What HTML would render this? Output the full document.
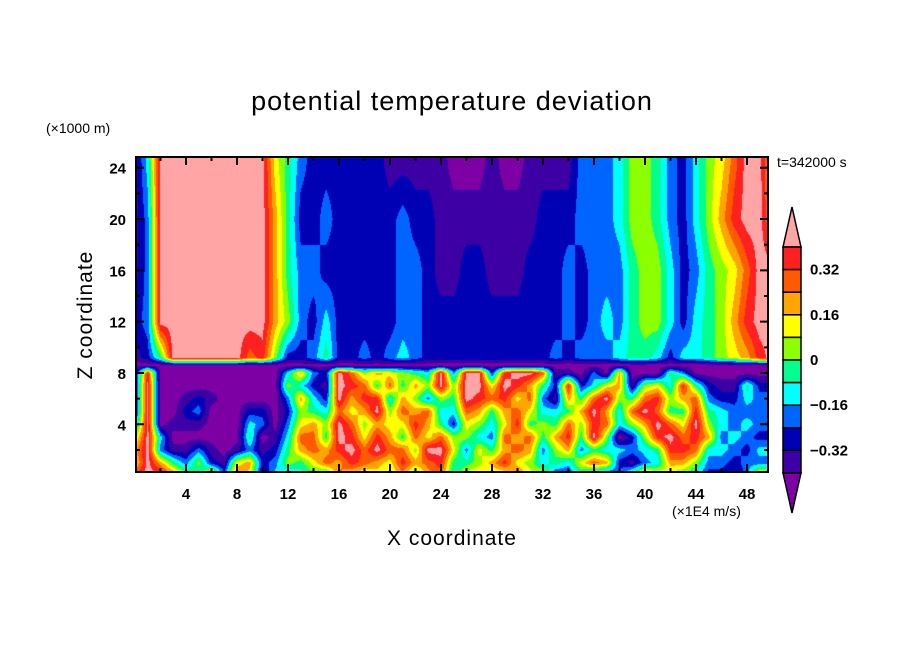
<!DOCTYPE html>
<html><head><meta charset="utf-8">
<style>
html,body{margin:0;padding:0;background:#fff;}
#wrap{position:relative;width:904px;height:654px;overflow:hidden;font-family:"Liberation Sans",sans-serif;color:#000;}
.t{position:absolute;white-space:nowrap;}
</style></head>
<body>
<div id="wrap">
<div class="t" style="left:0;width:904px;text-align:center;top:86px;font-size:27px;letter-spacing:1px;">potential temperature deviation</div>
<div class="t" style="left:46px;top:120px;font-size:14px;">(×1000 m)</div>
<div class="t" style="left:777px;top:154px;font-size:14px;">t=342000 s</div>
<div class="t" style="left:672px;top:503px;font-size:14px;">(×1E4 m/s)</div>
<div class="t" style="left:0;width:904px;text-align:center;top:527px;font-size:21px;letter-spacing:1px;">X coordinate</div>
<div class="t" style="left:86px;top:315px;font-size:21px;letter-spacing:1px;transform:translate(-50%,-50%) rotate(-90deg);">Z coordinate</div>
<canvas id="cv" width="632" height="315" style="position:absolute;left:136px;top:157px;"></canvas>
<svg id="sv" width="904" height="654" style="position:absolute;left:0;top:0;"></svg>
</div>
<script>
// level colors (index 0 = below -0.4, 11 = above 0.4)
const levelColors = ["#7c00a4","#3c00a4","#0000b4","#0064ff","#00ffff","#00ff8c","#8cff00","#ffff00","#ffa500","#ff5a00","#ff2020","#ffa5a5"];
const cbLabels = ["0.32","0.16","0","\u22120.16","\u22120.32"];
const cbLabelVals = [0.32,0.16,0,-0.16,-0.32];
const xTickLabels = [4,8,12,16,20,24,28,32,36,40,44,48];
const yTickLabels = [4,8,12,16,20,24];
// grid heights (z, km) and per-row level values at x = 0..50
const gridZ = [0,1,2,3,4,5,6,7,8,8.6,9.2,12,16,20,24.6];
const row0  = "abb96493971434549767685894786697722421369865422138"+"8";
const row1  = "7b853621782365798a987a89a5568a76454798213488633233"+"3";
const row2  = "8b31131013125898ab9b996bb73758983683544345aa944324"+"4";
const row3  = "6b40000005014995ba7a85979664398958a5b6026ab9a83432"+"2";
const row4  = "3b01110004303786b96877a8527647a56596a9468b97b64343"+"3";
const row5  = "1b00230002202654978b6989449858974458b849b955a54333"+"3";
const row6  = "1b00121000003842b8aa486365ba9a7931859b659a68932243"+"3";
const row7  = "1b00000000006421ba959586b6bb7ba852a24781674a521152"+"2";
const row8  = "1a000000000048 32b9687654b3bb2abb911030800053000000".replace(" ","")+"0";
const row86 = "000000000000000000000000000000000000000000000000000";
const row92 = "125bbbbbb9a6223522323432222222222323334554244567 8a".replace(" ","")+"b";
const row12 = "23bbbbbbbbb8632422222332222222222232343566424568abb"+"a";
const row16 = "13bbbbbbbbb8533222222332112211122232333566423567 9bb".replace(" ","")+"8";
const row20 = "13bbbbbbbbb8522322222322111111112223334665324 68abb".replace(" ","")+"8";
const row24 = "14bbbbbbbbb753222222111110001001111333466532467 9bb".replace(" ","")+"7";
const gridRows = [row0,row1,row2,row3,row4,row5,row6,row7,row8,row86,row92,row12,row16,row20,row24];

// axis functions
const PX0=135, PXU=12.75, PY24=167.7, PYU=12.83;
const xPix = x => PX0 + x*PXU;
const zPix = z => PY24 + (24-z)*PYU;
const xOf = p => (p-PX0)/PXU;
const zOf = p => 24-(p-PY24)/PYU;

function gv(r,c){ const s=gridRows[r]; const ch=s[Math.min(c,s.length-1)]; return parseInt(ch,16)||0; }
function field(x,z){
  x=Math.max(0,Math.min(50,x)); z=Math.max(0,Math.min(24.6,z));
  let r=0; while(r<gridZ.length-2 && z>gridZ[r+1]) r++;
  const tz=(z-gridZ[r])/(gridZ[r+1]-gridZ[r]);
  const c=Math.min(49,Math.floor(x)); const tx=x-c;
  const a=gv(r,c)*(1-tx)+gv(r,c+1)*tx;
  const b=gv(r+1,c)*(1-tx)+gv(r+1,c+1)*tx;
  return a*(1-tz)+b*tz;
}
const cv=document.getElementById('cv'); const ctx=cv.getContext('2d');
const img=ctx.createImageData(632,315);
const rgb=levelColors.map(h=>[parseInt(h.substr(1,2),16),parseInt(h.substr(3,2),16),parseInt(h.substr(5,2),16)]);
for(let j=0;j<315;j++){ const z=zOf(157+j+0.5);
  for(let i=0;i<632;i++){ const x=xOf(136+i+0.5);
    let L=Math.round(field(x,z)); L=Math.max(0,Math.min(11,L));
    const k=(j*632+i)*4, c=rgb[L]; img.data[k]=c[0];img.data[k+1]=c[1];img.data[k+2]=c[2];img.data[k+3]=255; } }
ctx.putImageData(img,0,0);

const NS="http://www.w3.org/2000/svg"; const sv=document.getElementById('sv');
function mk(tag,attrs){ const e=document.createElementNS(NS,tag); for(const k in attrs) e.setAttribute(k,attrs[k]); sv.appendChild(e); return e; }
const L=136,R=768,T=157,B=472;
let e=mk('rect',{x:L,y:T,width:R-L,height:B-T,fill:'none',stroke:'#000','stroke-width':2});


for(let x=2;x<50;x+=2){ const p=xPix(x); const len=(x%4===0)?8:4;
  e=mk('path',{d:`M${p},${B}v${-len}M${p},${T}v${len}`,stroke:'#000','stroke-width':2});
  
   }
for(let z=2;z<=24;z+=2){ const p=zPix(z); const len=(z%4===0)?8:4;
  e=mk('path',{d:`M${L},${p}h${len}M${R},${p}h${-len}`,stroke:'#000','stroke-width':2});
  
   }
xTickLabels.forEach(v=>{ e=mk('text',{x:xPix(v),y:499,'text-anchor':'middle','font-size':15,'font-weight':'bold','font-family':'Liberation Sans, sans-serif'}); e.textContent=v;
  
   });
yTickLabels.forEach(v=>{ e=mk('text',{x:126,y:zPix(v)+6,'text-anchor':'end','font-size':15,'font-weight':'bold','font-family':'Liberation Sans, sans-serif'}); e.textContent=v;
  
   });
// colorbar
const CBL=783,CBR=801,CBT=247,CBB=473,CH=(CBB-CBT)/10;
const cbY = v => CBT + (0.4-v)/0.08*CH;
e=mk('polygon',{points:`${CBL},${CBT} ${(CBL+CBR)/2},207 ${CBR},${CBT}`,fill:levelColors[11],stroke:'#000','stroke-width':1.5});


e=mk('polygon',{points:`${CBL},${CBB} ${(CBL+CBR)/2},513 ${CBR},${CBB}`,fill:levelColors[0],stroke:'#000','stroke-width':1.5});


for(let i=1;i<=10;i++){ const hi=0.4-(i-1)*0.08;
  e=mk('rect',{x:CBL,y:cbY(hi),width:CBR-CBL,height:CH,fill:levelColors[11-i],stroke:'#000','stroke-width':1.5});
  
   }
cbLabels.forEach((t,i)=>{ e=mk('text',{x:810,y:cbY(cbLabelVals[i])+5,'font-size':15,'font-weight':'bold','font-family':'Liberation Sans, sans-serif'}); e.textContent=t;
  
   });
</script>
</body></html>
